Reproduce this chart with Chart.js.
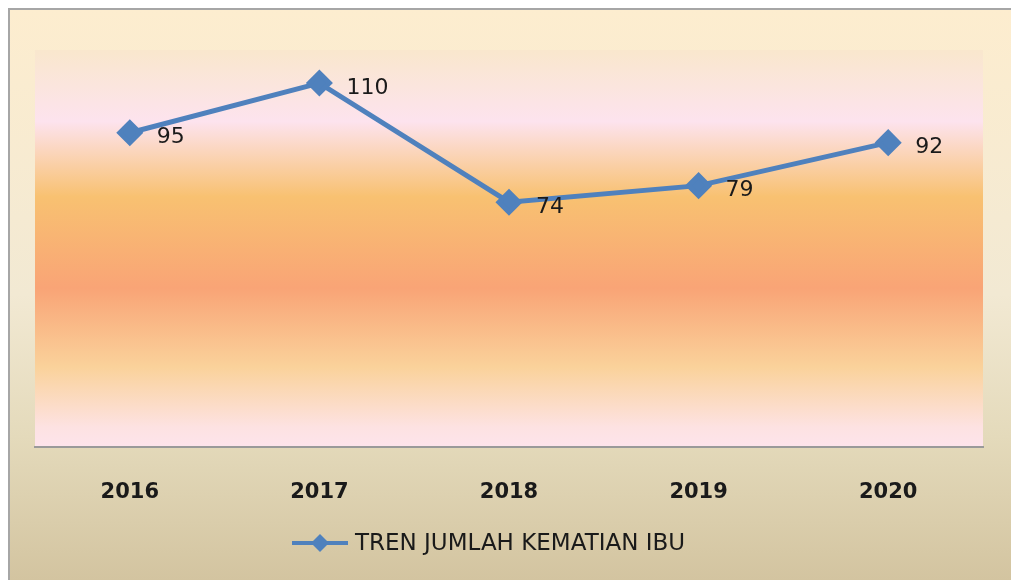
<!DOCTYPE html>
<html>
<head>
<meta charset="utf-8">
<script src="https://cdn.jsdelivr.net/npm/chart.js@4"></script>
<style>
  html, body { margin: 0; padding: 0; background: #fff; }
  #wrap { width: 1011px; height: 580px; position: relative; }
</style>
</head>
<body>
<div id="wrap"><canvas id="chart" width="1011" height="580"></canvas></div>
<script>
const years = ["2016", "2017", "2018", "2019", "2020"];
const deaths = [95, 110, 74, 79, 92];
const seriesName = "TREN JUMLAH KEMATIAN IBU";
const yMin = 0;
const yMax = 120;

const lineColor = "#4f81bd";
const fontFamily = "'DejaVu Sans', sans-serif";

// outer panel + plot area gradients
const backgrounds = {
    id: "backgrounds",
    beforeDraw(chart) {
        const ctx = chart.ctx;
        const w = chart.width, h = chart.height;
        ctx.save();
        ctx.fillStyle = "#ffffff";
        ctx.fillRect(0, 0, w, h);

        const outer = ctx.createLinearGradient(0, 9, 0, h);
        outer.addColorStop(0, "#fdedcf");
        outer.addColorStop(0.5, "#f2e9d3");
        outer.addColorStop(0.75, "#e4dabb");
        outer.addColorStop(1, "#d3c4a0");
        ctx.fillStyle = outer;
        ctx.fillRect(9, 9, w, h);

        ctx.strokeStyle = "#a6a6a6";
        ctx.lineWidth = 2;
        ctx.beginPath();
        ctx.moveTo(9, h);
        ctx.lineTo(9, 9);
        ctx.lineTo(w, 9);
        ctx.stroke();

        const a = chart.chartArea;
        const g = ctx.createLinearGradient(0, a.top, 0, a.bottom);
        g.addColorStop(0, "#f9e7cd");
        g.addColorStop(0.18, "#fde3ee");
        g.addColorStop(0.37, "#f8c171");
        g.addColorStop(0.6, "#f9a476");
        g.addColorStop(0.8, "#fad29b");
        g.addColorStop(0.95, "#fde2e2");
        g.addColorStop(1, "#fde4ec");
        ctx.fillStyle = g;
        ctx.fillRect(a.left, a.top, a.right - a.left, a.bottom - a.top);
        ctx.restore();
    }
};

// value labels right of each point, plus the legend at the bottom
const labelsAndLegend = {
    id: "labelsAndLegend",
    afterDatasetsDraw(chart) {
        const ctx = chart.ctx;
        const meta = chart.getDatasetMeta(0);
        ctx.save();
        ctx.fillStyle = "#1a1a1a";
        ctx.font = "22px " + fontFamily;
        ctx.textAlign = "left";
        ctx.textBaseline = "middle";
        meta.data.forEach((pt, i) => {
            ctx.fillText(String(deaths[i]), pt.x + 27, pt.y + 5);
        });

        // legend
        const ly = 543;
        ctx.strokeStyle = lineColor;
        ctx.lineWidth = 4;
        ctx.beginPath();
        ctx.moveTo(292, ly);
        ctx.lineTo(348, ly);
        ctx.stroke();
        ctx.fillStyle = lineColor;
        ctx.beginPath();
        ctx.moveTo(320, ly - 9);
        ctx.lineTo(329, ly);
        ctx.lineTo(320, ly + 9);
        ctx.lineTo(311, ly);
        ctx.closePath();
        ctx.fill();
        ctx.fillStyle = "#1a1a1a";
        ctx.font = "23px " + fontFamily;
        ctx.fillText(seriesName, 355, ly + 1);
        ctx.restore();
    }
};

new Chart(document.getElementById("chart"), {
    type: "line",
    data: {
        labels: years,
        datasets: [{
            label: seriesName,
            data: deaths,
            borderColor: lineColor,
            backgroundColor: lineColor,
            borderWidth: 5,
            pointStyle: "rectRot",
            pointRadius: 10,
            pointHoverRadius: 10,
            tension: 0
        }]
    },
    options: {
        responsive: false,
        animation: false,
        events: [],
        layout: {
            padding: { left: 35, right: 28, top: 50, bottom: 0 }
        },
        plugins: {
            legend: { display: false },
            tooltip: { enabled: false }
        },
        scales: {
            x: {
                offset: true,
                grid: { display: false, drawTicks: false },
                border: { display: true, color: "#9a9a9a", width: 2 },
                ticks: {
                    padding: 33,
                    color: "#1a1a1a",
                    font: { family: fontFamily, size: 21, weight: "bold" }
                },
                afterFit(scale) { scale.height = 133; }
            },
            y: {
                display: false,
                min: yMin,
                max: yMax
            }
        }
    },
    plugins: [backgrounds, labelsAndLegend]
});
</script>
</body>
</html>
